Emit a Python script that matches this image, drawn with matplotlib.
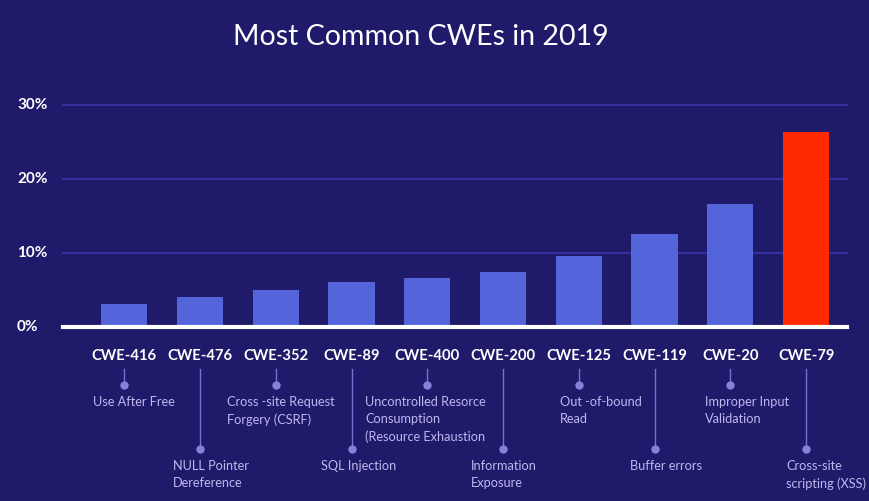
import matplotlib.pyplot as plt
import matplotlib.transforms as mtransforms
import numpy as np

# data
cwe_ids = ['CWE-416', 'CWE-476', 'CWE-352', 'CWE-89', 'CWE-400',
           'CWE-200', 'CWE-125', 'CWE-119', 'CWE-20', 'CWE-79']
cwe_names = ['Use After Free', 'NULL Pointer\nDereference',
             'Cross -site Request\nForgery (CSRF)', 'SQL Injection',
             'Uncontrolled Resorce\nConsumption\n(Resource Exhaustion',
             'Information\nExposure', 'Out -of-bound\nRead', 'Buffer errors',
             'Improper Input\nValidation', 'Cross-site\nscripting (XSS)']
share = [3.1, 4.0, 5.0, 6.1, 6.6, 7.4, 9.6, 12.6, 16.6, 26.4]
y_ticks = [0, 10, 20, 30]

# layout: x offset (pixels) of each description relative to its bar centre
name_dx = [-31, -27, -49, -31, -62, -32, -19, -25, -25, -20]

plt.rcParams['font.family'] = ['Lato', 'DejaVu Sans']

bg = '#1f1a6a'
fig = plt.figure(figsize=(8.69, 5.01), dpi=100, facecolor=bg)
H = 501

ax = fig.add_axes([63 / 869, 1 - 327 / H, (847 - 63) / 869, (327 - 105) / H])
ax.set_facecolor(bg)

x = np.arange(len(share))
colors = ['#5465dc'] * (len(share) - 1) + ['#ff2a00']
ax.bar(x, share, width=0.61, color=colors, zorder=3)

ax.set_xlim(-0.81, 9.54)
ax.set_ylim(0, 30)
for t in y_ticks[1:]:
    ax.axhline(t, color='#3a33ac', lw=1.3, zorder=1, clip_on=False)
ax.axhline(0, color='white', lw=3, zorder=4, clip_on=False)

for s in ax.spines.values():
    s.set_visible(False)
ax.set_xticks([])
ax.set_yticks([])

# y tick labels
ytrans = mtransforms.blended_transform_factory(fig.transFigure, ax.transData)
for t in y_ticks:
    fig.text(17 / 869, t, f'{t}%', transform=ytrans, color='white',
             fontsize=11, fontweight='bold', ha='left', va='center')

fig.text(0.484, 1 - 37 / H, 'Most Common CWEs in 2019', color='white',
         fontsize=20.5, ha='center', va='center')

# labels under bars
trans = mtransforms.blended_transform_factory(ax.transData, fig.transFigure)
stem_col = '#7a70cf'
for i in range(len(cwe_ids)):
    ax.text(i, 1 - 356 / H, cwe_ids[i], transform=trans, color='white',
            fontsize=10.6, fontweight='bold', ha='center', va='center',
            clip_on=False)
    dot_y = 449 if i % 2 else 385
    ax.plot([i, i], [1 - 369 / H, 1 - dot_y / H], transform=trans,
            color=stem_col, lw=1, clip_on=False)
    ax.plot([i], [1 - dot_y / H], 'o', transform=trans, color='#8a80dc',
            ms=6, mec='none', clip_on=False)
    ax.annotate(cwe_names[i], xy=(i, 1 - (dot_y + 11) / H), xycoords=trans,
                xytext=(name_dx[i], 0), textcoords='offset pixels',
                color='#bdb8ee', fontsize=9.2, ha='left', va='top',
                linespacing=1.5, annotation_clip=False)

fig.savefig('out.png', dpi=100, facecolor=bg)
